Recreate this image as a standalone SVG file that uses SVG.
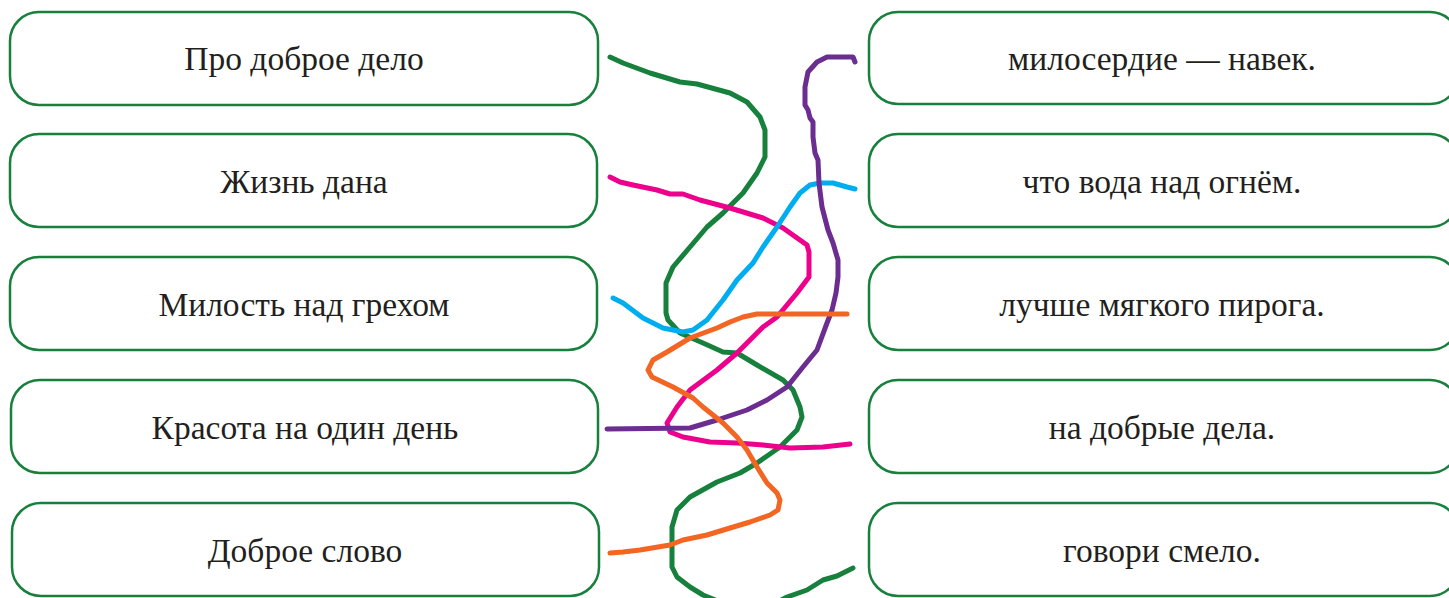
<svg xmlns="http://www.w3.org/2000/svg" width="1449" height="598" viewBox="0 0 1449 598">
<style>
.box{fill:#fff;stroke:#17803d;stroke-width:2.5}
.t{font-family:"Liberation Serif","DejaVu Serif",serif;font-size:33.5px;fill:#231f20;text-anchor:middle}
.c{fill:none;stroke-width:5;stroke-linecap:round;stroke-linejoin:round}
</style>
<rect width="1449" height="598" fill="#fff"/>
<g id="l1"><rect class="box" x="10" y="12" width="588" height="93" rx="29"/><text class="t" x="304" y="70">Про доброе дело</text></g>
<g id="l2"><rect class="box" x="10" y="134" width="587" height="93" rx="29"/><text class="t" x="304" y="193">Жизнь дана</text></g>
<g id="l3"><rect class="box" x="10" y="257" width="587" height="93" rx="29"/><text class="t" x="304" y="316">Милость над грехом</text></g>
<g id="l4"><rect class="box" x="11" y="380" width="587" height="93" rx="29"/><text class="t" x="305" y="439">Красота на один день</text></g>
<g id="l5"><rect class="box" x="12" y="503" width="587" height="93" rx="29"/><text class="t" x="305" y="562">Доброе слово</text></g>
<g id="r1"><rect class="box" x="869" y="12" width="590" height="92" rx="29"/><text class="t" x="1162" y="70">милосердие — навек.</text></g>
<g id="r2"><rect class="box" x="869" y="134" width="590" height="93" rx="29"/><text class="t" x="1162" y="193">что вода над огнём.</text></g>
<g id="r3"><rect class="box" x="869" y="257" width="590" height="93" rx="29"/><text class="t" x="1162" y="316">лучше мягкого пирога.</text></g>
<g id="r4"><rect class="box" x="869" y="380" width="590" height="93" rx="29"/><text class="t" x="1162" y="439">на добрые дела.</text></g>
<g id="r5"><rect class="box" x="869" y="503" width="590" height="93" rx="29"/><text class="t" x="1162" y="562">говори смело.</text></g>
<g id="connectors">
<polyline class="c" stroke="#17803d" points="610,57 623,63 650,73 680,82 697,84 730,93 747,102 760,117 765,130 765,157 757,173 743,193 723,213 707,227 690,247 673,267 666,283 666,313 668,320 680,333 703,343 723,352 737,353 757,365 783,380 793,390 800,407 802,417 797,430 780,447 757,463 740,473 717,482 690,497 677,510 672,527 672,567 677,577 690,587 703,595 730,606 770,606 787,597 807,590 823,580 837,576 853,568"/>
<polyline class="c" stroke="#ec008c" points="610,177 620,182 633,185 657,190 670,194 683,194 700,200 730,208 763,218 783,228 807,245 809,252 809,277 797,293 777,317 763,327 737,353 717,370 690,390 677,407 667,423 670,432 683,437 710,442 737,443 763,445 790,448 823,447 850,444"/>
<polyline class="c" stroke="#00aeef" points="613,298 623,303 643,318 663,328 683,332 693,330 707,320 723,300 737,280 753,263 763,247 777,227 790,207 800,193 810,185 820,183 833,183 847,187 855,189"/>
<polyline class="c" stroke="#6b2d90" points="855,62 853,57 827,57 817,62 808,72 805,87 805,105 808,110 810,118 813,122 813,137 815,153 818,160 819,183 822,207 828,230 833,243 838,260 838,277 836,293 832,310 827,323 817,350 803,367 787,387 767,400 747,410 717,420 690,428 607,429"/>
<polyline class="c" stroke="#f26522" points="847,314 757,314 743,317 730,322 717,328 690,338 667,352 653,360 648,370 652,377 673,387 693,398 703,407 723,423 737,437 747,450 757,467 767,483 777,493 780,500 778,510 770,515 750,522 730,528 707,535 683,540 670,545 640,550 623,552 610,553"/>
</g>
</svg>
